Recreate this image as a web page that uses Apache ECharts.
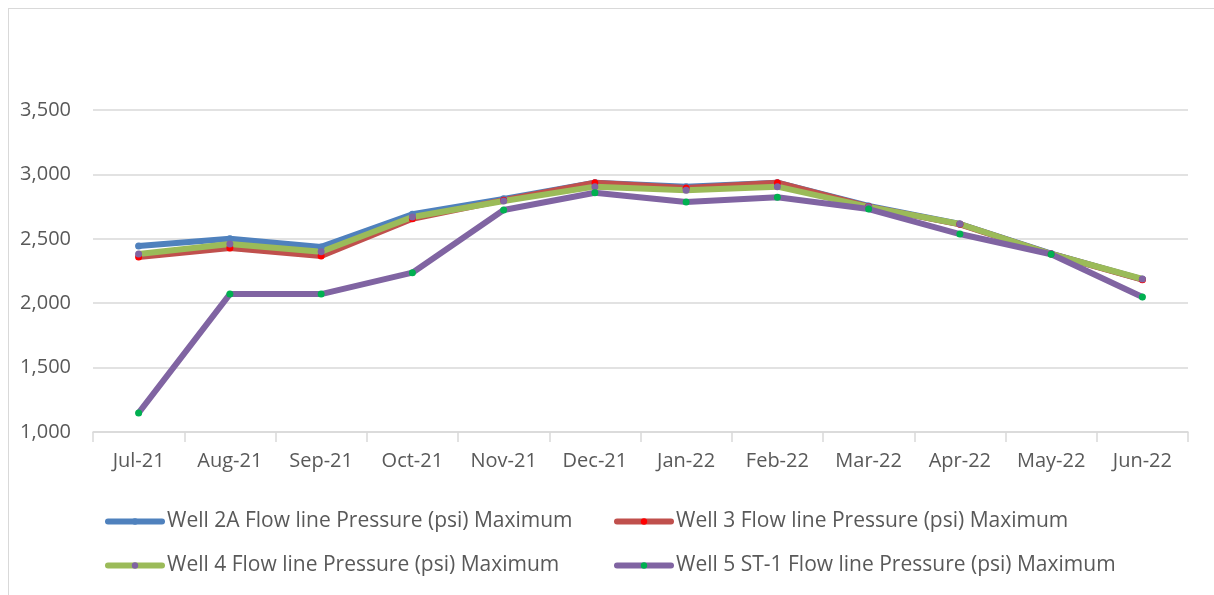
<!DOCTYPE html>
<html>
<head>
<meta charset="utf-8">
<title>Flow line pressure</title>
<script src="https://cdn.jsdelivr.net/npm/echarts@6/dist/echarts.min.js"></script>
<style>
  html, body { margin: 0; padding: 0; background: #fff; }
  #frame { position: absolute; left: 8px; top: 8px; width: 1220px; height: 600px; border: 1px solid #d9d9d9; }
  #chart { position: absolute; left: 0; top: 0; width: 1214px; height: 595px; }
</style>
</head>
<body>
<div id="frame"></div>
<div id="chart"></div>
<script>
var months = ['Jul-21', 'Aug-21', 'Sep-21', 'Oct-21', 'Nov-21', 'Dec-21', 'Jan-22', 'Feb-22', 'Mar-22', 'Apr-22', 'May-22', 'Jun-22'];
var well2A = [2444, 2500, 2437, 2690, 2810, 2935, 2905, 2935, 2755, 2615, 2385, 2185];
var well3  = [2359, 2429, 2366, 2656, 2800, 2936, 2895, 2936, 2750, 2612, 2382, 2183];
var well4  = [2382, 2460, 2400, 2669, 2793, 2905, 2877, 2905, 2748, 2615, 2382, 2188];
var well5  = [1148, 2071, 2071, 2237, 2724, 2858, 2786, 2822, 2731, 2537, 2380, 2048];
var names = [
  'Well 2A Flow line Pressure (psi) Maximum',
  'Well 3 Flow line Pressure (psi) Maximum',
  'Well 4 Flow line Pressure (psi) Maximum',
  'Well 5 ST-1 Flow line Pressure (psi) Maximum'
];

function makeSeries(name, data, lineColor, markColor) {
  return {
    name: name,
    type: 'line',
    data: data,
    symbol: 'circle',
    symbolSize: 7,
    showSymbol: true,
    lineStyle: { width: 6, color: lineColor, cap: 'round', join: 'round' },
    itemStyle: { color: markColor, borderWidth: 0 },
    color: lineColor
  };
}

var legendText = { color: '#595959', fontSize: 21, fontFamily: 'Open Sans' };

var myChart = echarts.init(document.getElementById('chart'));
var option = {
  animation: false,
  grid: { left: 93, right: 26, top: 110, bottom: 163 },
  legend: [{
    left: 100, top: 506, orient: 'vertical', itemGap: 23,
    itemWidth: 54, itemHeight: 8,
    lineStyle: { width: 6, cap: 'round' },
    textStyle: legendText,
    data: [names[0], names[2]]
  }, {
    left: 609, top: 506, orient: 'vertical', itemGap: 23,
    itemWidth: 54, itemHeight: 8,
    lineStyle: { width: 6, cap: 'round' },
    textStyle: legendText,
    data: [names[1], names[3]]
  }],
  xAxis: {
    type: 'category',
    data: months,
    boundaryGap: true,
    axisLine: { lineStyle: { color: '#d9d9d9', width: 1.5 } },
    axisTick: { show: true, length: 10, lineStyle: { color: '#d9d9d9', width: 1.5 } },
    axisLabel: { color: '#595959', fontSize: 20, fontFamily: 'Open Sans', margin: 19 }
  },
  yAxis: {
    type: 'value',
    min: 1000,
    max: 3500,
    interval: 500,
    axisLine: { show: false },
    axisTick: { show: false },
    axisLabel: {
      color: '#595959', fontSize: 20, fontFamily: 'Open Sans', margin: 22,
      formatter: function (v) { return v.toLocaleString('en-US'); }
    },
    splitLine: { lineStyle: { color: '#d9d9d9', width: 1.5 } }
  },
  series: [
    makeSeries(names[0], well2A, '#4F81BD', '#4F81BD'),
    makeSeries(names[1], well3, '#C0504D', '#FF0000'),
    makeSeries(names[2], well4, '#9BBB59', '#8064A2'),
    makeSeries(names[3], well5, '#8064A2', '#00B050')
  ]
};
myChart.setOption(option);
</script>
</body>
</html>
